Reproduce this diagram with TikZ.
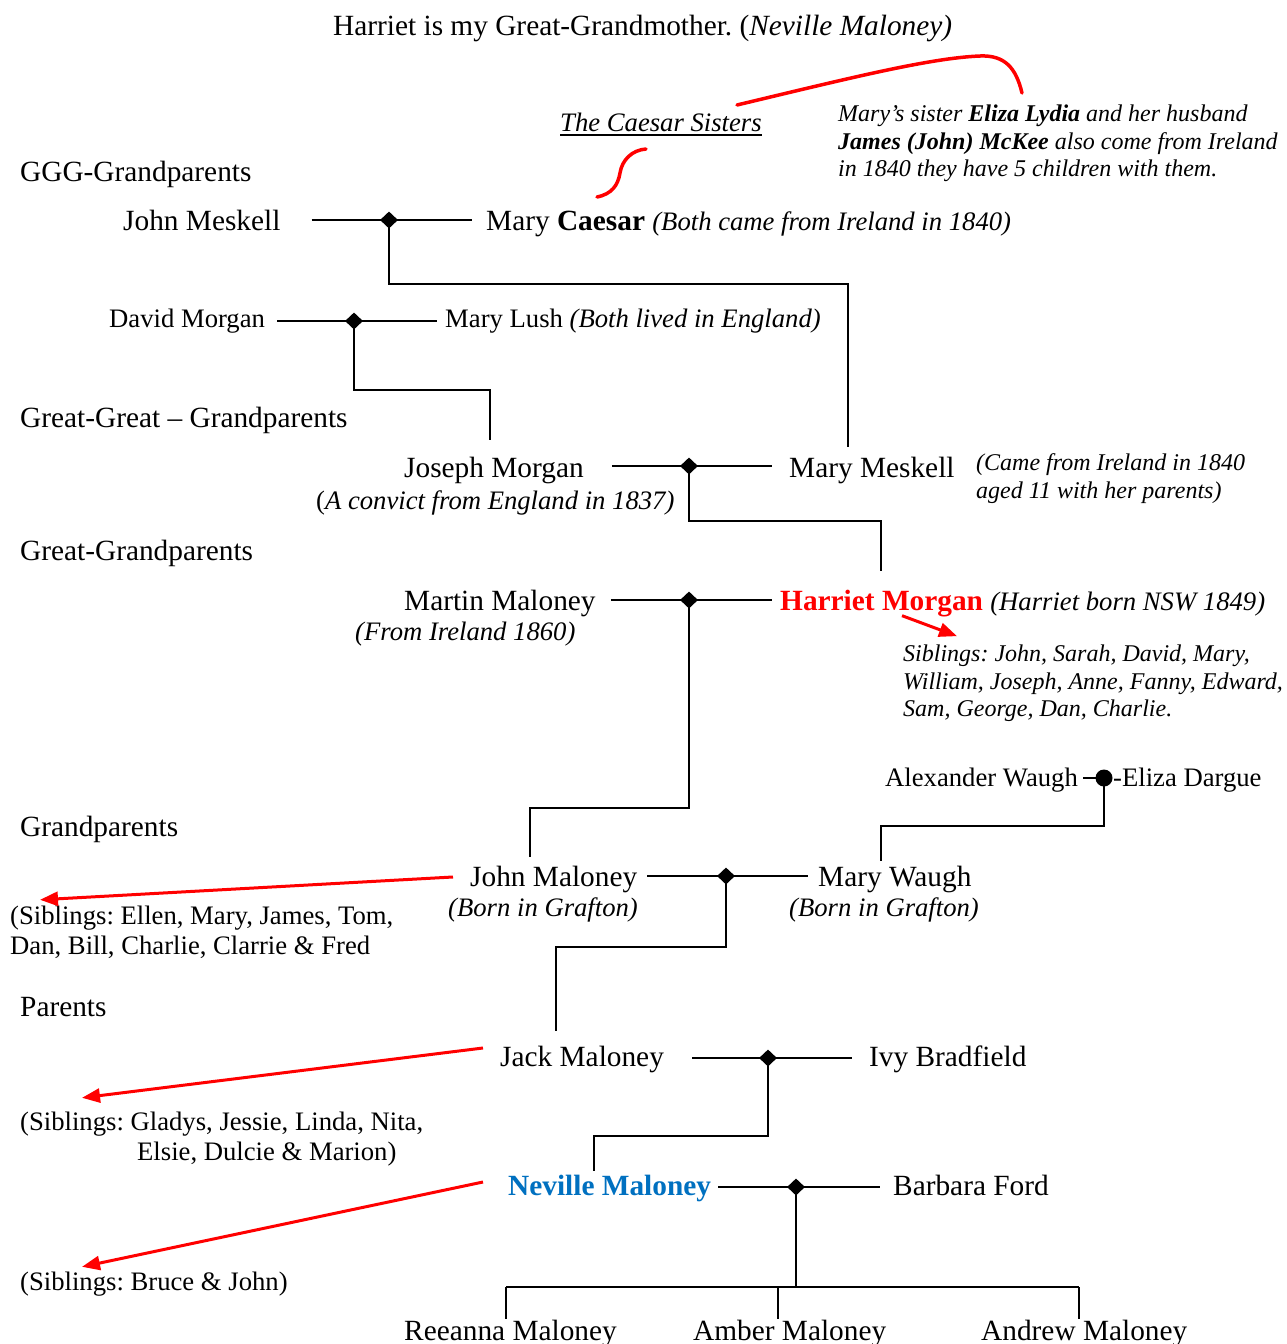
\documentclass[tikz,border=0pt]{standalone}
\usepackage{fontspec}
\setmainfont{Liberation Serif}
\usetikzlibrary{shapes.geometric,arrows.meta,calc}
\newcommand\szA{\fontsize{29.33}{34}\selectfont}
\newcommand\szB{\fontsize{26.67}{31}\selectfont}
\newcommand\szC{\fontsize{24}{28}\selectfont}
\definecolor{nevblue}{RGB}{0,112,192}
\frenchspacing
\begin{document}
\frenchspacing
\begin{tikzpicture}[x=1pt,y=-1pt,
  lbl/.style={anchor=base west, inner sep=0pt, font=\szA},
  lblb/.style={anchor=base west, inner sep=0pt, font=\szB},
  lblbi/.style={anchor=base west, inner sep=0pt, font=\szB\itshape},
  lblci/.style={anchor=base west, inner sep=0pt, font=\szC\itshape},
  conn/.style={line width=2pt},
  marr/.style={diamond, fill=black, inner sep=0pt, minimum width=18pt, minimum height=17pt},
  marrc/.style={circle, fill=black, inner sep=0pt, minimum size=17pt},
  redln/.style={draw=red, line width=3.5pt, line cap=round},
  redarr/.style={draw=red, line width=3pt, -{Triangle[length=18pt,width=14pt]}},
]
\useasboundingbox (0,0) rectangle (1287,1344);

% ---------- texts ----------
\node[lbl] (title) at (333,35) {Harriet is my Great-Grandmother. (\textit{Neville Maloney)}};
\node[lblbi] (cs) at (560,131) {The Caesar Sisters};
\node[lblci] (mck1) at (838,121) {Mary’s sister \textbf{Eliza Lydia} and her husband};
\node[lblci] (mck2) at (838,149) {\textbf{James (John) McKee} also come from Ireland};
\node[lblci] (mck3) at (838,176) {in 1840 they have 5 children with them.};

\node[lbl] (ggg) at (20,181) {GGG-Grandparents};
\node[lbl] (jmk) at (123,230) {John Meskell};
\node[lbl] (mcs) at (486,230) {Mary \textbf{Caesar} {\szB\itshape (Both came from Ireland in 1840)}};

\node[lblb] (dm) at (109,327) {David Morgan};
\node[lblb] (ml) at (445,327) {Mary Lush \textit{(Both lived in England)}};

\node[lbl] (gg) at (20,427) {Great-Great – Grandparents};
\node[lbl] (jmg) at (404,477) {Joseph Morgan};
\node[lblb] (jmg2) at (316,509) {(\textit{A convict from England in 1837)}};
\node[lbl] (mm) at (789,477) {Mary Meskell};
\node[lblci] (mm2) at (976,470) {(Came from Ireland in 1840};
\node[lblci] (mm3) at (976,498) {aged 11 with her parents)};

\node[lbl] (g) at (20,560) {Great-Grandparents};
\node[lbl] (mmal) at (404,610) {Martin Maloney};
\node[lblbi] (mmal2) at (355,640) {(From Ireland 1860)};
\node[lbl] (hm) at (780,610) {\textcolor{red}{\textbf{Harriet Morgan}} {\szB\itshape (Harriet born NSW 1849)}};
\node[lblci] (sibh1) at (903,661) {Siblings: John, Sarah, David, Mary,};
\node[lblci] (sibh2) at (903,689) {William, Joseph, Anne, Fanny, Edward,};
\node[lblci] (sibh3) at (903,716) {Sam, George, Dan, Charlie.};

\node[lblb] (aw) at (885,786) {Alexander Waugh};
\node[lblb] (ed) at (1113,786) {-Eliza Dargue};

\node[lbl] (gp) at (20,836) {Grandparents};
\node[lbl] (jml) at (470,886) {John Maloney};
\node[lblbi] (jml2) at (448,916) {(Born in Grafton)};
\node[lbl] (mw) at (818,886) {Mary Waugh};
\node[lblbi] (mw2) at (789,916) {(Born in Grafton)};
\node[lblb] (sib1) at (10,924) {(Siblings: Ellen, Mary, James, Tom,};
\node[lblb] (sib1b) at (10,954) {Dan, Bill, Charlie, Clarrie \& Fred};

\node[lbl] (par) at (20,1016) {Parents};
\node[lbl] (jack) at (500,1066) {Jack Maloney};
\node[lbl] (ivy) at (869,1066) {Ivy Bradfield};
\node[lblb] (sib2) at (20,1130) {(Siblings: Gladys, Jessie, Linda, Nita,};
\node[lblb] (sib2b) at (137,1160) {Elsie, Dulcie \& Marion)};

\node[lbl] (nev) at (508,1195) {\textcolor{nevblue}{\textbf{Neville Maloney}}};
\node[lbl] (bf) at (893,1195) {Barbara Ford};
\node[lblb] (sib3) at (20,1290) {(Siblings: Bruce \& John)};

\node[lbl] (rm) at (404,1340) {Reeanna Maloney};
\node[lbl] (am) at (693,1340) {Amber Maloney};
\node[lbl] (an) at (981,1340) {Andrew Maloney};

% ---------- underline ----------
\draw[line width=1.5pt] ($(cs.base west)+(0,4)$) -- ($(cs.base east)+(0,4)$);

% ---------- elbows ----------
\coordinate (e1) at (848,284);
\coordinate (e2) at (490,390);
\coordinate (e3) at (881,521);
\coordinate (e4) at (530,808);
\coordinate (e5) at (881,826);
\coordinate (e6) at (556,947);
\coordinate (e7) at (594,1136);
\coordinate (bl) at (506,1287);
\coordinate (bm) at (778,1287);
\coordinate (br) at (1079,1287);

% ---------- marriage markers (positions) ----------
\coordinate (d1) at (389,220);
\coordinate (d2) at (354,321);
\coordinate (d3) at (689,466);
\coordinate (d4) at (689,600);
\coordinate (c5) at (1104,778);
\coordinate (d6) at (726,876);
\coordinate (d7) at (768,1058);
\coordinate (d8) at (796,1187);

% ---------- marriage lines ----------
\draw[conn, shorten <=31pt, shorten >=14pt] (jmk.east |- d1) -- (mcs.west |- d1);
\draw[conn, shorten <=12pt, shorten >=8pt] (dm.east |- d2) -- (ml.west |- d2);
\draw[conn, shorten <=28pt, shorten >=17pt] (jmg.east |- d3) -- (mm.west |- d3);
\draw[conn, shorten <=15pt, shorten >=8pt] (mmal.east |- d4) -- (hm.west |- d4);
\draw[conn, shorten <=5pt] (aw.east |- c5) -- (c5);
\draw[conn, shorten <=10pt, shorten >=10pt] (jml.east |- d6) -- (mw.west |- d6);
\draw[conn, shorten <=28pt, shorten >=17pt] (jack.east |- d7) -- (ivy.west |- d7);
\draw[conn, shorten <=7pt, shorten >=13pt] (nev.east |- d8) -- (bf.west |- d8);

% ---------- descents ----------
\draw[conn, shorten >=9pt] (d1) |- (e1) -- (e1 |- mm.north);
\draw[conn, shorten >=16pt] (d2) |- (e2) -- (e2 |- jmg.north);
\draw[conn, shorten >=18pt] (d3) |- (e3) -- (e3 |- hm.north);
\draw[conn, shorten >=8pt] (d4) |- (e4) -- (e4 |- jml.north);
\draw[conn, shorten >=4pt] (c5) |- (e5) -- (e5 |- mw.north);
\draw[conn, shorten >=14pt] (d6) |- (e6) -- (e6 |- jack.north);
\draw[conn, shorten >=3pt] (d7) |- (e7) -- (e7 |- nev.north);
\draw[conn] (d8) -- (d8 |- bl);
\draw[conn] (bl) -- (br);
\draw[conn] (bl) -- (bl |- rm.north);
\draw[conn] (bm) -- (bm |- am.north);
\draw[conn] (br) -- (br |- an.north);

% ---------- marriage markers (drawn on top) ----------
\node[marr] (m1) at (d1) {};
\node[marr] (m2) at (d2) {};
\node[marr] (m3) at (d3) {};
\node[marr] (m4) at (d4) {};
\node[marrc] (m5) at (c5) {};
\node[marr] (m6) at (d6) {};
\node[marr] (m7) at (d7) {};
\node[marr] (m8) at (d8) {};

% ---------- red annotations ----------
\draw[redln] (597,197) .. controls (612,194) and (618,185) .. (620,173)
             .. controls (622,160) and (632,150) .. (646,149);
\draw[redln] (737,105) .. controls (850,78) and (930,58) .. (980,56)
             .. controls (1005,55) and (1016,68) .. (1022,93);
\draw[redarr] ($(hm.south west)+(122,-1)$) -- ($(sibh1.north west)+(54,-8)$);
\draw[redarr] ($(jml.west)+(-17,-2)$) -- ($(sib1.north west)+(30,-5.5)$);
\draw[redarr] ($(jack.west)+(-17,-11)$) -- ($(sib2.north west)+(62,-13.5)$);
\draw[redarr] ($(nev.west)+(-25,-6)$) -- ($(sib3.north west)+(62,-4.5)$);
\end{tikzpicture}
\end{document}
